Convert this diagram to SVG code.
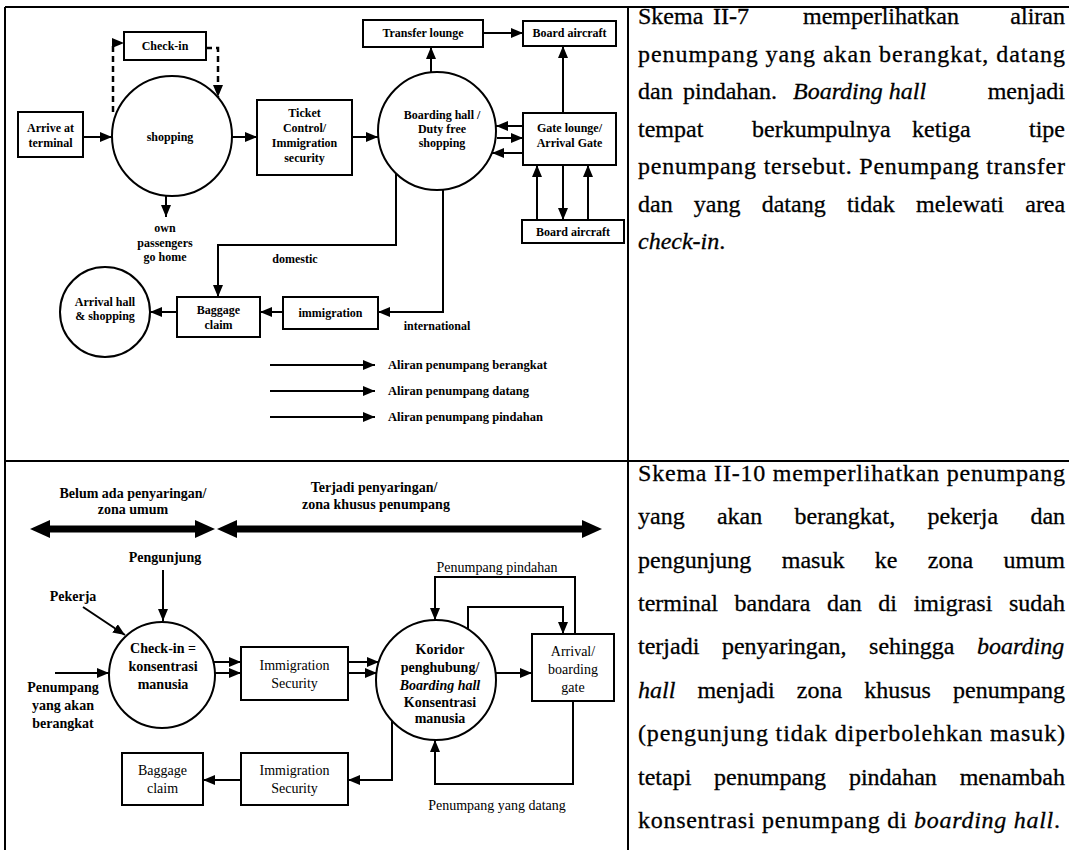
<svg xmlns="http://www.w3.org/2000/svg" width="1069" height="850" viewBox="0 0 1069 850">
  <style>
    .frame { stroke: #000; stroke-width: 2; fill: none; }
    .box { fill: #fff; stroke: #000; stroke-width: 2; }
    .ring { fill: #fff; stroke: #000; stroke-width: 2; }
    .ln { fill: none; stroke: #000; stroke-width: 2; }
    .dash { fill: none; stroke: #000; stroke-width: 2.5; stroke-dasharray: 6 4; }
    .zone { fill: none; stroke: #000; stroke-width: 7; }
    .t { font-family: "Liberation Serif", "Times New Roman", serif; font-weight: bold; font-size: 12px; text-anchor: middle; fill: #000; }
    .b { font-family: "Liberation Serif", "Times New Roman", serif; font-weight: bold; font-size: 14px; text-anchor: middle; fill: #000; }
    .r { font-family: "Liberation Serif", "Times New Roman", serif; font-size: 14px; text-anchor: middle; fill: #000; }
    .lg { font-family: "Liberation Serif", "Times New Roman", serif; font-weight: bold; font-size: 12.5px; fill: #000; }
    .p { font-family: "Liberation Serif", "Times New Roman", serif; font-size: 24px; fill: #000; stroke: #000; stroke-width: 0.3px; }
    .i { font-style: italic; }
  </style>
  <defs>
    <marker id="ah" markerUnits="userSpaceOnUse" markerWidth="12" markerHeight="10" refX="12" refY="5" orient="auto">
      <path d="M0,0 L12,5 L0,10 z" fill="#000"/>
    </marker>
    <marker id="big" markerUnits="userSpaceOnUse" markerWidth="20" markerHeight="18" refX="4" refY="9" orient="auto-start-reverse">
      <path d="M0,0 L20,9 L0,18 z" fill="#000"/>
    </marker>
  </defs>

  <rect width="1069" height="850" fill="#fff"/>

  <!-- table rules -->
  <g id="frame" class="frame">
    <line x1="5" y1="7" x2="1069" y2="7"/>
    <line x1="5" y1="7" x2="5" y2="850"/>
    <line x1="628" y1="7" x2="628" y2="850"/>
    <line x1="5" y1="461" x2="1069" y2="461"/>
  </g>

  <!-- ===== Skema II-7 : passenger flow ===== -->
  <g id="connectors-top">
    <path class="dash" d="M113,112 V43 H124" marker-end="url(#ah)"/>
    <path class="dash" d="M206,48 H218 V97" marker-end="url(#ah)"/>
    <path class="ln" d="M83,137 H112" marker-end="url(#ah)"/>
    <path class="ln" d="M232,137 H257" marker-end="url(#ah)"/>
    <path class="ln" d="M352,137 H378" marker-end="url(#ah)"/>
    <path class="ln" d="M166,196 V217" marker-end="url(#ah)"/>
    <path class="ln" d="M431,72 V47" marker-end="url(#ah)"/>
    <path class="ln" d="M483,33 H523" marker-end="url(#ah)"/>
    <path class="ln" d="M563,113 V46" marker-end="url(#ah)"/>
    <path class="ln" d="M523,126 H496" marker-end="url(#ah)"/>
    <path class="ln" d="M497,138 H523" marker-end="url(#ah)"/>
    <path class="ln" d="M523,153 H492" marker-end="url(#ah)"/>
    <path class="ln" d="M537,220 V165" marker-end="url(#ah)"/>
    <path class="ln" d="M563,165 V220" marker-end="url(#ah)"/>
    <path class="ln" d="M588,220 V165" marker-end="url(#ah)"/>
    <path class="ln" d="M396,173 V245 H218 V297" marker-end="url(#ah)"/>
    <path class="ln" d="M443,190 V312 H378" marker-end="url(#ah)"/>
    <path class="ln" d="M283,312 H260" marker-end="url(#ah)"/>
    <path class="ln" d="M177,312 H150" marker-end="url(#ah)"/>
  </g>

  <g id="check-in">
    <rect class="box" x="124" y="32" width="82" height="28"/>
    <text class="t" x="165" y="50">Check-in</text>
  </g>
  <g id="arrive-terminal">
    <rect class="box" x="18" y="112" width="65" height="45"/>
    <text class="t" x="50.5" y="132">Arrive at</text>
    <text class="t" x="50.5" y="147">terminal</text>
  </g>
  <g id="shopping">
    <circle class="ring" cx="172" cy="136" r="60"/>
    <text class="t" x="170" y="141">shopping</text>
  </g>
  <g id="go-home">
    <text class="t" x="165" y="232">own</text>
    <text class="t" x="165" y="247">passengers</text>
    <text class="t" x="165" y="261">go home</text>
  </g>
  <g id="ticket-control">
    <rect class="box" x="257" y="100" width="95" height="75"/>
    <text class="t" x="304.5" y="117">Ticket</text>
    <text class="t" x="304.5" y="132">Control/</text>
    <text class="t" x="304.5" y="147">Immigration</text>
    <text class="t" x="304.5" y="162">security</text>
  </g>
  <g id="boarding-hall">
    <circle class="ring" cx="437" cy="131" r="59"/>
    <text class="t" x="442" y="119">Boarding hall /</text>
    <text class="t" x="442" y="133">Duty free</text>
    <text class="t" x="442" y="147">shopping</text>
  </g>
  <g id="transfer-lounge">
    <rect class="box" x="363" y="20" width="120" height="27"/>
    <text class="t" x="423" y="37">Transfer lounge</text>
  </g>
  <g id="board-aircraft-top">
    <rect class="box" x="523" y="21" width="93" height="25"/>
    <text class="t" x="569.5" y="37">Board aircraft</text>
  </g>
  <g id="gate-lounge">
    <rect class="box" x="523" y="113" width="93" height="52"/>
    <text class="t" x="569.5" y="132">Gate lounge/</text>
    <text class="t" x="569.5" y="147">Arrival Gate</text>
  </g>
  <g id="board-aircraft-bottom">
    <rect class="box" x="522" y="220" width="102" height="23"/>
    <text class="t" x="573" y="236">Board aircraft</text>
  </g>
  <g id="immigration">
    <rect class="box" x="283" y="297" width="95" height="32"/>
    <text class="t" x="330.5" y="317">immigration</text>
  </g>
  <g id="baggage-claim-top">
    <rect class="box" x="177" y="297" width="83" height="40"/>
    <text class="t" x="218.5" y="314">Baggage</text>
    <text class="t" x="218.5" y="329">claim</text>
  </g>
  <g id="arrival-hall">
    <circle class="ring" cx="105" cy="312" r="45"/>
    <text class="t" x="105" y="306">Arrival hall</text>
    <text class="t" x="105" y="320">&amp; shopping</text>
  </g>
  <g id="route-labels">
    <text class="t" x="295" y="263">domestic</text>
    <text class="t" x="437" y="330">international</text>
  </g>
  <g id="legend">
    <path class="ln" d="M270,365 H375" marker-end="url(#ah)"/>
    <path class="ln" d="M270,391 H375" marker-end="url(#ah)"/>
    <path class="ln" d="M270,417 H375" stroke-width="1.2" marker-end="url(#ah)"/>
    <path class="ln" d="M275,417 H360" stroke-width="2.5" stroke-dasharray="2 17"/>
    <text class="lg" x="388" y="369">Aliran penumpang berangkat</text>
    <text class="lg" x="388" y="395">Aliran penumpang datang</text>
    <text class="lg" x="388" y="421">Aliran penumpang pindahan</text>
  </g>

  <!-- text column, Skema II-7 -->
  <g id="desc-top">
    <text class="p" x="638" y="24">Skema</text>
    <text class="p" x="713" y="24">II-7</text>
    <text class="p" x="803" y="24">memperlihatkan</text>
    <text class="p" x="1065" y="24" text-anchor="end">aliran</text>
    <text class="p" x="638" y="62" textLength="427" lengthAdjust="spacing">penumpang yang akan berangkat, datang</text>
    <text class="p" x="638" y="99">dan</text>
    <text class="p" x="683" y="99">pindahan.</text>
    <text class="p i" x="793" y="99">Boarding hall</text>
    <text class="p" x="1065" y="99" text-anchor="end">menjadi</text>
    <text class="p" x="638" y="137">tempat</text>
    <text class="p" x="752" y="137">berkumpulnya</text>
    <text class="p" x="912" y="137">ketiga</text>
    <text class="p" x="1065" y="137" text-anchor="end">tipe</text>
    <text class="p" x="638" y="174" textLength="427" lengthAdjust="spacing">penumpang tersebut. Penumpang transfer</text>
    <text class="p" x="638" y="212" word-spacing="15.2">dan yang datang tidak melewati area</text>
    <text class="p i" x="638" y="249">check-in<tspan font-style="normal">.</tspan></text>
  </g>

  <!-- ===== Skema II-10 : zoning ===== -->
  <g id="zones">
    <path class="zone" d="M46,529 H199" marker-start="url(#big)" marker-end="url(#big)"/>
    <path class="zone" d="M233,529 H586" stroke-width="6" marker-start="url(#big)" marker-end="url(#big)"/>
    <text class="b" x="133" y="498">Belum ada penyaringan/</text>
    <text class="b" x="133" y="514">zona umum</text>
    <text class="b" x="374" y="492">Terjadi penyaringan/</text>
    <text class="b" x="376" y="509">zona khusus penumpang</text>
  </g>

  <g id="connectors-bottom">
    <path class="ln" d="M163,570 V621" marker-end="url(#ah)"/>
    <path class="ln" d="M83,607 L125,635" marker-end="url(#ah)"/>
    <path class="ln" d="M55,673 H109" marker-end="url(#ah)"/>
    <path class="ln" d="M213,662 H241" marker-end="url(#ah)"/>
    <path class="ln" d="M215,673 H241" marker-end="url(#ah)"/>
    <path class="ln" d="M348,662 H379" marker-end="url(#ah)"/>
    <path class="ln" d="M348,673 H377" marker-end="url(#ah)"/>
    <path class="ln" d="M496,673 H532" marker-end="url(#ah)"/>
    <path class="ln" d="M575,634 V577 H435 V620" marker-end="url(#ah)"/>
    <path class="ln" d="M468,629 V607 H563 V634" marker-end="url(#ah)"/>
    <path class="ln" d="M573,701 V784 H435 V740" marker-end="url(#ah)"/>
    <path class="ln" d="M392,721 V780 H348" marker-end="url(#ah)"/>
    <path class="ln" d="M241,780 H203" marker-end="url(#ah)"/>
  </g>

  <g id="pengunjung">
    <text class="b" x="165" y="562">Pengunjung</text>
  </g>
  <g id="pekerja">
    <text class="b" x="73" y="601">Pekerja</text>
  </g>
  <g id="penumpang-berangkat">
    <text class="b" x="63" y="692">Penumpang</text>
    <text class="b" x="63" y="710">yang akan</text>
    <text class="b" x="63" y="728">berangkat</text>
  </g>
  <g id="check-in-zone">
    <circle class="ring" cx="162" cy="675" r="53"/>
    <text class="b" x="163" y="653">Check-in =</text>
    <text class="b" x="163" y="671">konsentrasi</text>
    <text class="b" x="163" y="689">manusia</text>
  </g>
  <g id="immigration-security-out">
    <rect class="box" x="241" y="647" width="107" height="53"/>
    <text class="r" x="294.5" y="670">Immigration</text>
    <text class="r" x="294.5" y="688">Security</text>
  </g>
  <g id="koridor">
    <circle class="ring" cx="436" cy="680" r="60"/>
    <text class="b" x="440" y="654">Koridor</text>
    <text class="b" x="440" y="672">penghubung/</text>
    <text class="b i" x="440" y="690">Boarding hall</text>
    <text class="b" x="440" y="707">Konsentrasi</text>
    <text class="b" x="440" y="723">manusia</text>
  </g>
  <g id="arrival-boarding-gate">
    <rect class="box" x="532" y="634" width="82" height="67"/>
    <text class="r" x="573" y="656">Arrival/</text>
    <text class="r" x="573" y="674">boarding</text>
    <text class="r" x="573" y="692">gate</text>
  </g>
  <g id="flow-labels">
    <text class="r" x="497" y="572">Penumpang pindahan</text>
    <text class="r" x="497" y="810">Penumpang yang datang</text>
  </g>
  <g id="immigration-security-in">
    <rect class="box" x="241" y="753" width="107" height="52"/>
    <text class="r" x="294.5" y="775">Immigration</text>
    <text class="r" x="294.5" y="793">Security</text>
  </g>
  <g id="baggage-claim-bottom">
    <rect class="box" x="122" y="753" width="81" height="52"/>
    <text class="r" x="162.5" y="775">Baggage</text>
    <text class="r" x="162.5" y="793">claim</text>
  </g>

  <!-- text column, Skema II-10 -->
  <g id="desc-bottom">
    <text class="p" x="638" y="481" textLength="427" lengthAdjust="spacing">Skema II-10 memperlihatkan penumpang</text>
    <text class="p" x="638" y="524" word-spacing="26.3">yang akan berangkat, pekerja dan</text>
    <text class="p" x="638" y="568" word-spacing="24.4">pengunjung masuk ke zona umum</text>
    <text class="p" x="638" y="611" word-spacing="10.6">terminal bandara dan di imigrasi sudah</text>
    <text class="p" x="638" y="654" word-spacing="16.6">terjadi penyaringan, sehingga <tspan class="i">boarding</tspan></text>
    <text class="p" x="638" y="698" word-spacing="16.1"><tspan class="i">hall</tspan> menjadi zona khusus penumpang</text>
    <text class="p" x="638" y="741" textLength="427" lengthAdjust="spacing">(pengunjung tidak diperbolehkan masuk)</text>
    <text class="p" x="638" y="785" word-spacing="16.8">tetapi penumpang pindahan menambah</text>
    <text class="p" x="638" y="828" textLength="422" lengthAdjust="spacing">konsentrasi penumpang di <tspan class="i">boarding hall</tspan>.</text>
  </g>
</svg>
